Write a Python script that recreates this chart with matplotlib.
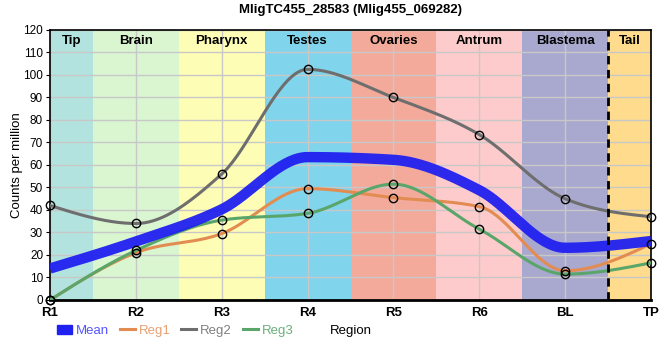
import numpy as np
import matplotlib
matplotlib.use("Agg")
import matplotlib.pyplot as plt
from matplotlib.patches import Patch
from matplotlib.lines import Line2D

plt.rcParams['font.family'] = ['Liberation Sans', 'DejaVu Sans']

# data
regions = ["R1", "R2", "R3", "R4", "R5", "R6", "BL", "TP"]
reg1 = [0, 21, 29.5, 49.5, 45.5, 41.5, 13, 25]
reg2 = [42, 34, 56, 102.5, 90, 73.5, 45, 37]
reg3 = [0, 22, 35.5, 38.5, 51.5, 31.5, 11.5, 16.5]
mean = [14, 26, 40.3, 63.5, 62.3, 48.8, 23.2, 26.2]

band_names = ["Tip", "Brain", "Pharynx", "Testes", "Ovaries", "Antrum", "Blastema", "Tail"]
band_edges = [0, 0.5, 1.5, 2.5, 3.5, 4.5, 5.5, 6.5, 7]
band_colors = ["#b3e3de", "#d9f6d0", "#fefdb6", "#80d4eb", "#f4aa9b",
               "#fdcbcb", "#a9a8ce", "#fedb8d"]


def monotone(x, y, n=40):
    # monotone cubic (like d3 curveMonotoneX)
    x = np.asarray(x, float)
    y = np.asarray(y, float)
    h = np.diff(x)
    s = np.diff(y) / h
    t = np.zeros_like(y)
    for i in range(1, len(y) - 1):
        p = (s[i - 1] * h[i] + s[i] * h[i - 1]) / (h[i - 1] + h[i])
        t[i] = (np.sign(s[i - 1]) + np.sign(s[i])) * min(abs(s[i - 1]), abs(s[i]), 0.5 * abs(p))
    t[0] = (3 * s[0] - t[1]) / 2
    t[-1] = (3 * s[-1] - t[-2]) / 2
    xs, ys = [], []
    for i in range(len(h)):
        u = np.linspace(0, 1, n)
        h00 = 2 * u**3 - 3 * u**2 + 1
        h10 = u**3 - 2 * u**2 + u
        h01 = -2 * u**3 + 3 * u**2
        h11 = u**3 - u**2
        xs.append(x[i] + u * h[i])
        ys.append(h00 * y[i] + h10 * h[i] * t[i] + h01 * y[i + 1] + h11 * h[i] * t[i + 1])
    return np.concatenate(xs), np.concatenate(ys)


fig = plt.figure(figsize=(6.6, 3.6), dpi=100)
ax = fig.add_axes([0.0758, 0.1667, 0.9106, 0.75])

for i in range(len(band_names)):
    ax.axvspan(band_edges[i], band_edges[i + 1], color=band_colors[i], lw=0, zorder=0)
    ax.text((band_edges[i] + band_edges[i + 1]) / 2, 115.3, band_names[i],
            ha="center", va="center", fontsize=9.5, fontweight="bold", zorder=5)

ax.grid(True, color="#c8c8c8", lw=1, zorder=1)
ax.set_axisbelow(True)

xi = np.arange(len(regions))
col1, col2, col3, colm = "#e38c52", "#6e6e6e", "#5aa66a", "#2020f0"

for vals, c in [(reg2, col2), (reg1, col1), (reg3, col3)]:
    sx, sy = monotone(xi, vals)
    ax.plot(sx, sy, color=c, lw=2.2, zorder=3)
sx, sy = monotone(xi, mean)
ax.plot(sx, sy, color=colm, lw=7.5, alpha=0.95, zorder=4, solid_capstyle="butt")
for vals in [reg1, reg2, reg3]:
    ax.plot(xi, vals, 'o', ms=6, mfc="none", mec="black", mew=1, zorder=6, clip_on=False)

ax.axvline(6.5, color="black", ls=(0, (3, 2)), lw=2, zorder=5)

ax.set_xlim(0, 7)
ax.set_ylim(0, 120)
ax.set_xticks(xi)
ax.set_xticklabels(regions, fontsize=9.5, fontweight="bold")
ax.set_yticks(np.arange(0, 121, 10))
ax.tick_params(axis="y", labelsize=8.5, length=3, pad=2)
ax.tick_params(axis="x", length=0, pad=5)
for sp in ax.spines.values():
    sp.set_color("black")
    sp.set_linewidth(1.2)
ax.spines["bottom"].set_linewidth(2)
ax.set_ylabel("Counts per million", fontsize=9.5, labelpad=0)

ax.set_title("MligTC455_28583 (Mlig455_069282)", fontsize=9.5, fontweight="bold", pad=12)

handles = [Patch(color=colm),
           Line2D([], [], color=col1, lw=2.2),
           Line2D([], [], color=col2, lw=2.2),
           Line2D([], [], color=col3, lw=2.2)]
labels = ["Mean", "Reg1", "Reg2", "Reg3"]
leg = fig.legend(handles, labels, loc="center left", bbox_to_anchor=(0.068, 0.081),
                 ncol=4, frameon=False, fontsize=9.5, handlelength=1.15,
                 handletextpad=0.3, columnspacing=0.8)
for txt, c in zip(leg.get_texts(), ["#5555ff", "#e8a070", "#808080", "#6ab07a"]):
    txt.set_color(c)
fig.text(0.5, 0.081, "Region", ha="left", va="center", fontsize=9.5)

fig.savefig("out.png", dpi=100)
